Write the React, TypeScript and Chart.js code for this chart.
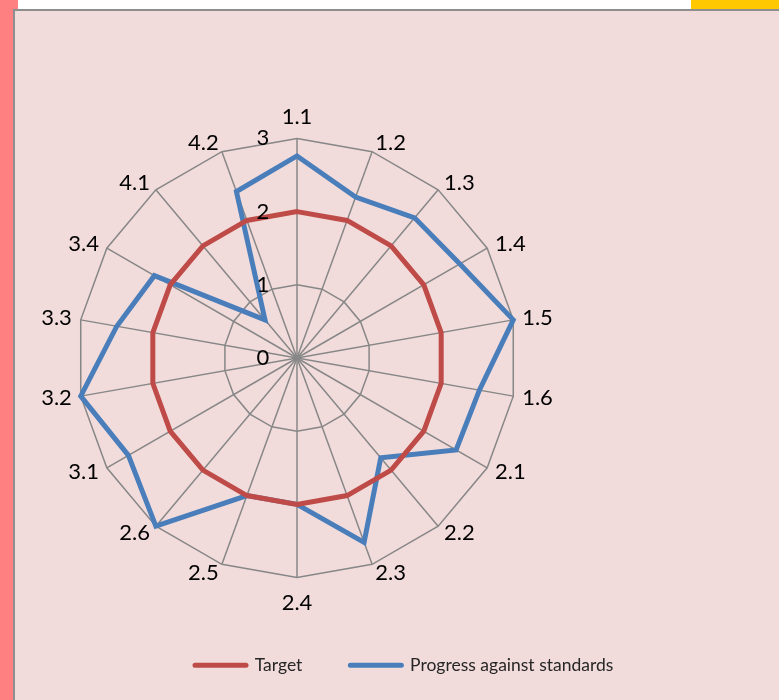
import React, { useEffect, useRef } from "react";
import { Chart, registerables } from "chart.js";

Chart.register(...registerables);

const categories = ["1.1", "1.2", "1.3", "1.4", "1.5", "1.6", "2.1", "2.2", "2.3", "2.4", "2.5", "2.6", "3.1", "3.2", "3.3", "3.4", "4.1", "4.2"];
const targetValues = [2, 2, 2, 2, 2, 2, 2, 2, 2, 2, 2, 2, 2, 2, 2, 2, 2, 2];
const progressValues = [2.76, 2.34, 2.5, 2.57, 3, 2.53, 2.51, 1.78, 2.68, 2.0, 2.0, 3, 2.66, 3, 2.5, 2.25, 0.68, 2.42];
const tickValues = [0, 1, 2, 3];
const seriesNames = ["Target", "Progress against standards"];

const FONT = "Lato, 'Open Sans', sans-serif";
const CANVAS_LEFT = 12; // canvas offset inside the chart box
const LEGEND_START_X = 168; // desired x (canvas coords) of first legend marker
const LEGEND_SHIFT_Y = -4; // legend vertical correction
const POINT_LABEL_GAP = 9; // gap between outer ring and label anchor

const labelsPlugin = {
  id: "excelLabels",
  afterDatasetsDraw(chart: any) {
    const scale = chart.scales.r;
    const ctx = chart.ctx;
    ctx.save();
    ctx.font = `22px ${FONT}`;
    ctx.fillStyle = "#000000";
    ctx.textBaseline = "middle";
    const outer = scale.drawingArea;
    const n = categories.length;
    categories.forEach((lab, i) => {
      const p = scale.getPointPosition(i, outer + POINT_LABEL_GAP);
      const deg = (360 / n) * i;
      let y = p.y;
      if (deg === 0) {
        ctx.textAlign = "center";
        y -= 12;
      } else if (deg === 180) {
        ctx.textAlign = "center";
        y += 16;
      } else if (deg < 180) {
        ctx.textAlign = "left";
      } else {
        ctx.textAlign = "right";
      }
      ctx.fillText(lab, p.x, y);
    });
    ctx.textAlign = "center";
    tickValues.forEach((v) => {
      const d = scale.getDistanceFromCenterForValue(v);
      ctx.fillText(String(v), scale.xCenter - 34, scale.yCenter - d);
    });
    ctx.restore();
  },
};

const legendShiftPlugin = {
  id: "legendShift",
  afterLayout(chart: any) {
    const lg = chart.legend;
    if (!lg || !lg.lineWidths) return;
    const pad = lg.options.labels.padding;
    const cursorX = (lg.left + pad + (lg.right - lg.lineWidths[0])) / 2;
    const shift = LEGEND_START_X - cursorX;
    lg.left += shift;
    lg.right += shift;
    lg.top += LEGEND_SHIFT_Y;
    lg.bottom += LEGEND_SHIFT_Y;
  },
};

export default function App() {
  const canvasRef = useRef<HTMLCanvasElement | null>(null);

  useEffect(() => {
    document.body.style.margin = "0";
    const canvas = canvasRef.current;
    if (!canvas) return;
    const chart = new Chart(canvas, {
      type: "radar",
      data: {
        labels: categories,
        datasets: [
          {
            label: seriesNames[0],
            data: targetValues,
            borderColor: "#be4b48",
            backgroundColor: "#be4b48",
            borderWidth: 5,
            pointRadius: 0,
            fill: false,
          },
          {
            label: seriesNames[1],
            data: progressValues,
            borderColor: "#4a7ebb",
            backgroundColor: "#4a7ebb",
            borderWidth: 5,
            pointRadius: 0,
            fill: false,
          },
        ],
      },
      options: {
        animation: false,
        responsive: false,
        maintainAspectRatio: false,
        layout: { padding: { left: 11, right: 222, top: 94, bottom: 0 } },
        elements: { line: { tension: 0, borderJoinStyle: "miter" } },
        scales: {
          r: {
            min: 0,
            max: 3,
            ticks: { display: false, stepSize: 1 },
            grid: { color: "#878787", lineWidth: 1.5, circular: false },
            angleLines: { color: "#878787", lineWidth: 1.5 },
            // reserves room for the labels; the visible labels are drawn by the plugin
            pointLabels: {
              color: "rgba(0,0,0,0)",
              padding: 7,
              font: { family: FONT, size: 22 },
            },
          },
        },
        plugins: {
          tooltip: { enabled: false },
          legend: {
            position: "bottom",
            labels: {
              usePointStyle: true,
              pointStyle: "line",
              pointStyleWidth: 51,
              boxHeight: 16,
              padding: 48,
              color: "#262626",
              font: { family: FONT, size: 17.5 },
              generateLabels: (c: any) => {
                const items = Chart.defaults.plugins.legend.labels.generateLabels(c);
                return items.map((it: any) => ({ ...it, lineCap: "round", lineWidth: 5 }));
              },
            },
          },
        },
      },
      plugins: [labelsPlugin, legendShiftPlugin],
    });
    return () => chart.destroy();
  }, []);

  return (
    <div style={{ position: "fixed", left: 0, top: 0, width: 779, height: 700, overflow: "hidden", background: "#ffffff" }}>
      <div style={{ position: "absolute", left: 0, top: 0, width: 18, height: 700, background: "#ff8080" }} />
      <div style={{ position: "absolute", left: 691, top: 0, width: 88, height: 10, background: "#ffc800" }} />
      <div
        style={{
          position: "absolute",
          left: 13,
          top: 9,
          width: 800,
          height: 720,
          border: "2px solid #8e8e8e",
          background: "#f2dcdb",
          overflow: "hidden",
        }}
      >
        <canvas ref={canvasRef} width={752} height={677} style={{ position: "absolute", left: CANVAS_LEFT, top: 0, width: 752, height: 677 }} />
      </div>
    </div>
  );
}
